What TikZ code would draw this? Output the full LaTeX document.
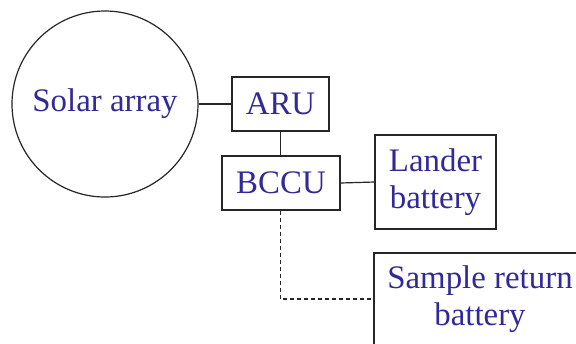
\documentclass[tikz,border=0pt]{standalone}
\usepackage{fontspec}
\setmainfont{Liberation Serif}
\definecolor{labelblue}{RGB}{48,42,150}
\begin{document}
\begin{tikzpicture}[x=1bp,y=-1bp,
  every node/.style={text=labelblue, font=\fontsize{33}{37}\selectfont, align=center, inner sep=0pt},
  unit/.style={draw=black!85, line width=1.2bp},
  link/.style={draw=black!85, line width=1.2bp},
  dashlink/.style={link, dash pattern=on 4bp off 3bp}]
  \useasboundingbox (0,0) rectangle (576,343);
  \clip (0,0) rectangle (576,343);
  \fill[white] (0,0) rectangle (576,343);

  % power sources and units
  \node[unit, circle, minimum size=186bp] (solar) at (105,104) {Solar array};
  \node[unit, rectangle, minimum width=97bp, minimum height=54bp] (aru) at (280.5,104) {ARU};
  \node[unit, rectangle, minimum width=118bp, minimum height=54bp] (bccu) at (281,183) {BCCU};
  \node[unit, rectangle, minimum width=121bp, minimum height=94bp] (lander) at (435.5,182) {Lander\\battery};
  \node[unit, rectangle, minimum width=212bp, minimum height=92bp] (sample) at (480,299) {Sample return\\battery};

  % connections
  \draw[link] (solar.east) -- (aru.west);
  \draw[link] (aru.south) -- (aru.south |- bccu.north);
  \draw[link] (bccu.east) -- (lander.west);
  \draw[dashlink] (aru.south |- bccu.south) |- (sample.west);
\end{tikzpicture}
\end{document}
